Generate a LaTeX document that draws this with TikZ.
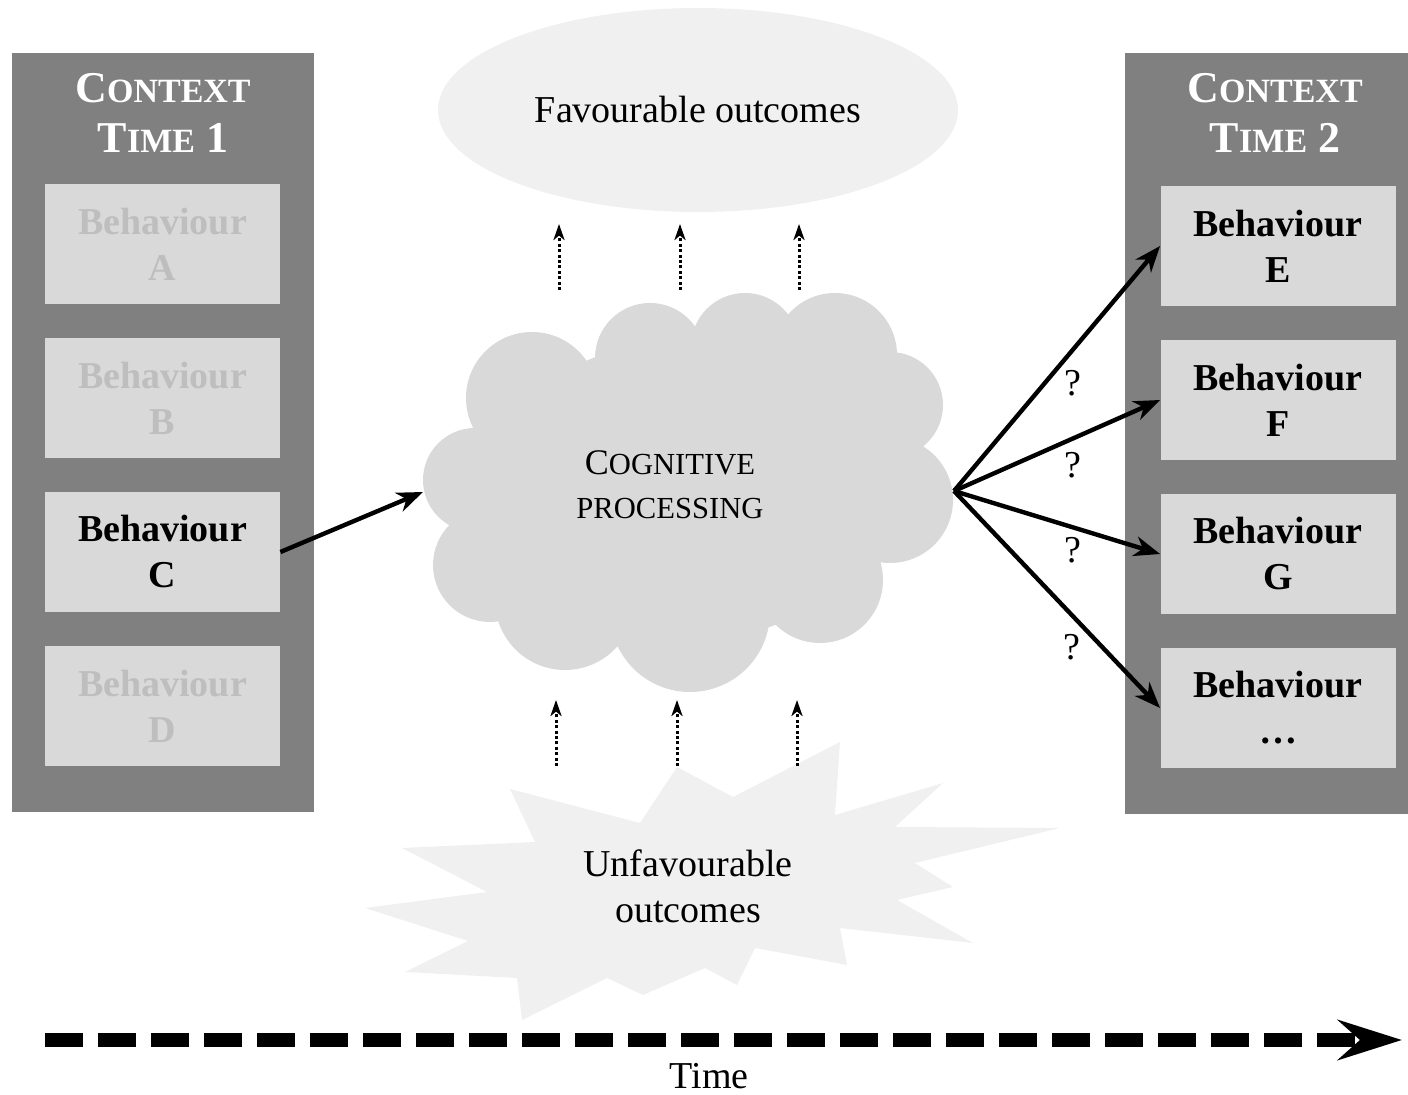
\documentclass[tikz,border=0pt]{standalone}
\usepackage{fontspec}
\setmainfont{Liberation Serif}
\usetikzlibrary{arrows.meta,shapes.geometric}
\definecolor{panelgray}{RGB}{128,128,128}
\definecolor{boxgray}{RGB}{217,217,217}
\definecolor{fadetext}{RGB}{190,190,190}
\definecolor{paleshape}{RGB}{240,240,240}
\newcommand{\hdrsc}[1]{{\fontsize{17}{25}\selectfont #1}}
\newcommand{\cogsc}[1]{{\fontsize{15.3}{22}\selectfont #1}}
\tikzset{
  panel/.style={fill=panelgray, draw=none},
  bhv/.style={fill=boxgray, minimum width=117.5pt, minimum height=60pt, inner sep=0pt,
    align=center, font=\fontsize{19}{23}\selectfont\bfseries},
  faded/.style={bhv, text=fadetext},
  hdr/.style={align=center, text=white, inner sep=0pt, font=\fontsize{22}{25}\selectfont\bfseries},
  cogtext/.style={align=center, inner sep=0pt, font=\fontsize{18}{22}\selectfont},
  plain/.style={align=center, inner sep=0pt, font=\fontsize{19}{23}\selectfont},
  thickarrow/.style={line width=2.2pt, -{Stealth[length=13pt,width=10pt,inset=4pt]}},
  dotarrow/.style={line width=1.5pt, dash pattern=on 1.5pt off 1.2pt,
    -{Stealth[length=8pt,width=5.5pt,inset=2.2pt]}},
  timeline/.style={line width=7pt, dash pattern=on 19pt off 7.5pt,
    -{Stealth[length=32pt,width=20pt,inset=11pt]}}
}
\begin{document}
\begin{tikzpicture}[x=0.5pt,y=-0.5pt]
\useasboundingbox (0,0) rectangle (1408,1095);
% panels
\fill[panel] (12,53) rectangle (314,812);
\fill[panel] (1125,53) rectangle (1408,814);
\node[hdr] (h1) at (163,113) {C\hdrsc{ONTEXT}\\T\hdrsc{IME} 1};
\node[hdr] (h2) at (1275,113) {C\hdrsc{ONTEXT}\\T\hdrsc{IME} 2};
% left behaviours
\node[faded] (A) at (162.5,244) {Behaviour\\A};
\node[faded] (B) at (162.5,398) {Behaviour\\B};
\node[bhv]   (C) at (162.5,552) {Behaviour\\C};
\node[faded] (D) at (162.5,706) {Behaviour\\D};
% right behaviours
\node[bhv] (E) at (1278,246) {Behaviour\\E};
\node[bhv] (F) at (1278,400) {Behaviour\\F};
\node[bhv] (G) at (1278,554) {Behaviour\\G};
\node[bhv] (H) at (1278,708) {Behaviour\\\dots};
% favourable ellipse
\node[ellipse, fill=paleshape, minimum width=260pt, minimum height=102pt, inner sep=0pt,
  font=\fontsize{19}{23}\selectfont] (fav) at (698,110) {Favourable outcomes};
% cloud
\fill[boxgray] (688,490) circle[x radius=200, y radius=150]
  (475,480) circle[radius=52]
  (532,398) circle[radius=66]
  (650,358) circle[radius=55]
  (745,347) circle[radius=54]
  (835,355) circle[radius=62]
  (890,405) circle[radius=53]
  (890,500) circle[radius=63]
  (820,580) circle[radius=63]
  (690,612) circle[radius=80]
  (565,600) circle[radius=70]
  (490,565) circle[radius=57];
\node[cogtext] (cog) at (670,485) {C\cogsc{OGNITIVE}\\\cogsc{PROCESSING}};
\coordinate (cloudW) at (423,492);
\coordinate (cloudE) at (954,491);
% starburst
\fill[paleshape] (510,789) -- (640,823) -- (677,767) -- (733,797) -- (840,742) -- (835,815)
  -- (943,783) -- (895,827) -- (1060,828) -- (915,863) -- (953,887) -- (897,900)
  -- (973,943) -- (840,928) -- (847,965) -- (755,948) -- (737,985) -- (705,968)
  -- (643,995) -- (607,978) -- (522,1020) -- (517,978) -- (405,972) -- (468,941)
  -- (365,908) -- (487,892) -- (402,848) -- (535,842) -- cycle;
\node[plain] (unfav) at (688,886) {Unfavourable\\outcomes};
% dotted arrows
\coordinate (t1s) at (559,290); \coordinate (t1e) at (559,224);
\coordinate (t2s) at (680,290); \coordinate (t2e) at (680,224);
\coordinate (t3s) at (799,290); \coordinate (t3e) at (799,224);
\coordinate (b1s) at (556,766); \coordinate (b1e) at (556,700);
\coordinate (b2s) at (677,766); \coordinate (b2e) at (677,700);
\coordinate (b3s) at (797,766); \coordinate (b3e) at (797,700);
\foreach \n in {t1,t2,t3,b1,b2,b3} \draw[dotarrow] (\n s) -- (\n e);
% main arrows
\draw[thickarrow] (C.east) -- (cloudW);
\draw[thickarrow] (cloudE) -- (E.west);
\draw[thickarrow] (cloudE) -- (F.west);
\draw[thickarrow] (cloudE) -- (G.west);
\draw[thickarrow] (cloudE) -- (H.west);
\node[plain] (q1) at (1073,383) {?};
\node[plain] (q2) at (1073,465) {?};
\node[plain] (q3) at (1073,550) {?};
\node[plain] (q4) at (1072,647) {?};
% time line
\coordinate (ts) at (45,1040);
\coordinate (te) at (1402,1040);
\draw[timeline] (ts) -- (te);
\node[plain, anchor=base] (time) at (709,1088) {Time};
\end{tikzpicture}
\end{document}
